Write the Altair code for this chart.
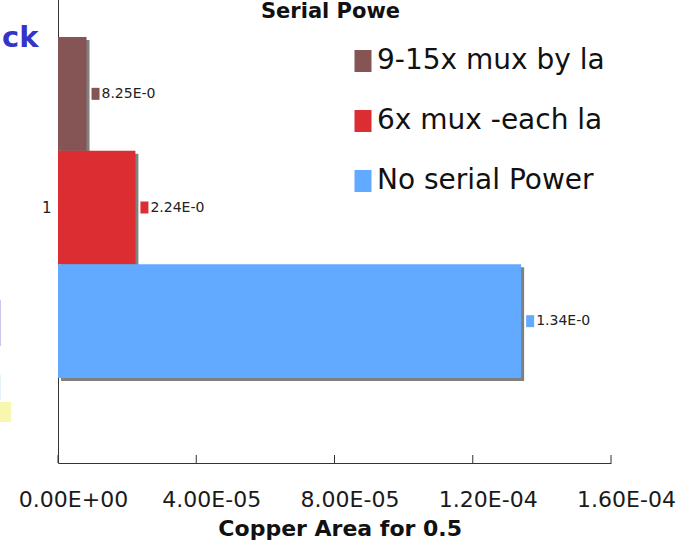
import altair as alt
import pandas as pd

# Series (one category "1", three bars)
series = ["9-15x mux by la", "6x mux -each la", "No serial Power"]
values = [8.25e-06, 2.24e-05, 1.34e-04]
colors = ["#855555", "#DC2D33", "#62AAFF"]
category = ["1", "1", "1"]

# X axis ticks
tick_values = [0.0, 4e-05, 8e-05, 1.2e-04, 1.6e-04]
tick_labels = ["0.00E+00", "4.00E-05", "8.00E-05", "1.20E-04", "1.60E-04"]

W, H = 553, 511
FONT = "DejaVu Sans"

df = pd.DataFrame({
    "cat": category,
    "series": series,
    "value": values,
    "hex": colors,
    "label": [f"{v:.2E}" for v in values],
})
ticks_df = pd.DataFrame({"value": tick_values})
one = pd.DataFrame({"k": [0]})

# label expression mapping tick values to scientific labels
label_expr = "''"
for v, lab in reversed(list(zip(tick_values, tick_labels))):
    label_expr = f"abs(datum.value - {v!r}) < 1e-9 ? '{lab}' : ({label_expr})"

x_axis = alt.Axis(
    values=tick_values,
    labelExpr=label_expr,
    title="Copper Area for 0.5",
    ticks=False,
    grid=False,
    labelFlush=False,
    labelOverlap=False,
    labelOffset=15,
    labelPadding=26,
    labelFont=FONT,
    labelFontSize=22,
    labelColor="#1a1a1a",
    domainColor="#333333",
    titleFont=FONT,
    titleFontSize=22,
    titleFontWeight="bold",
    titleColor="#111111",
    titleX=281.7,
    titleY=72.7,
    titleAlign="center",
    titleBaseline="alphabetic",
)
x_scale = alt.Scale(domain=[0, 1.6e-04], nice=False, zero=True)
x_enc = alt.X("value:Q", scale=x_scale, axis=x_axis)

y_enc = alt.Y(
    "cat:N",
    scale=alt.Scale(paddingOuter=0.2493, paddingInner=0),
    axis=alt.Axis(
        title=None,
        ticks=False,
        labelPadding=7,
        labelFont=FONT,
        labelFontSize=15,
        labelAngle=0,
        labelColor="#222222",
        domainColor="#333333",
    ),
)
# band offsets for the bars, point offsets (centred) for labels and keys
y_off = alt.YOffset("series:N", sort=series,
                    scale=alt.Scale(paddingInner=0, paddingOuter=0))
y_off_shadow = alt.YOffset("series:N", sort=series,
                           scale=alt.Scale(range=[3, 344], paddingInner=0, paddingOuter=0))
y_off_point = alt.YOffset("series:N", sort=series, scale=alt.Scale(padding=0.5))

base = alt.Chart(df)

shadow = base.mark_bar(color="#808080", xOffset=3, x2Offset=3).encode(
    x=x_enc, y=y_enc, yOffset=y_off_shadow
)

bars = base.mark_bar().encode(
    x=x_enc,
    y=y_enc,
    yOffset=y_off,
    color=alt.Color(
        "series:N",
        sort=series,
        scale=alt.Scale(domain=series, range=colors),
        legend=alt.Legend(
            title=None,
            orient="none",
            legendX=291,
            legendY=95,
            padding=0,
            symbolType="M-0.773,-1H0.773V1H-0.773Z",
            symbolSize=484,
            symbolStrokeWidth=0,
            symbolOpacity=1,
            labelFont=FONT,
            labelFontSize=28,
            labelColor="#111111",
            labelOffset=0,
            labelLimit=400,
            rowPadding=32,
        ),
    ),
)

keys = base.mark_point(
    shape="M-0.667,-1H0.667V1H-0.667Z", size=144, filled=True, opacity=1,
    strokeWidth=0, xOffset=9,
).encode(x=x_enc, y=y_enc, yOffset=y_off_point,
         color=alt.Color("hex:N", scale=None))

labels = base.mark_text(
    align="left", baseline="middle", dx=15, font=FONT, fontSize=14,
    color="#222222", limit=54, ellipsis="\u200b",
).encode(x=x_enc, y=y_enc, yOffset=y_off_point, text="label:N")

tick_marks = alt.Chart(ticks_df).mark_rule(color="#333333", strokeWidth=1).encode(
    x=x_enc, y=alt.value(H - 8), y2=alt.value(H)
)

title = alt.Chart(one).mark_text(
    text="Serial Powe", font=FONT, fontSize=21, fontWeight="bold",
    color="#111111", align="center", baseline="alphabetic",
).encode(x=alt.value(272.5), y=alt.value(66))

side_word = alt.Chart(one).mark_text(
    text="ck", font=FONT, fontSize=29, fontWeight="bold",
    color="#3434C8", align="left", baseline="alphabetic",
).encode(x=alt.value(-56), y=alt.value(95))

yellow_box = alt.Chart(one).mark_rect(color="#F7F7B0").encode(
    x=alt.value(-58), x2=alt.value(-47), y=alt.value(450), y2=alt.value(470)
)
lavender_strip = alt.Chart(one).mark_rect(color="#C8C8EE").encode(
    x=alt.value(-58), x2=alt.value(-57), y=alt.value(348), y2=alt.value(394)
)
cyan_strip = alt.Chart(one).mark_rect(color="#E2F2F8").encode(
    x=alt.value(-58), x2=alt.value(-57), y=alt.value(423), y2=alt.value(448)
)

chart = (
    alt.layer(shadow, bars, keys, labels, tick_marks, title, side_word,
              yellow_box, lavender_strip, cyan_strip)
    .resolve_scale(yOffset="independent")
    .properties(
        width=W,
        height=H,
        autosize=alt.AutoSizeParams(type="none"),
        padding={"left": 58, "top": -48, "right": 85, "bottom": 82},
        background="white",
    )
    .configure_view(stroke=None)
)

chart.save("out.html", embed_options={"renderer": "svg", "actions": False})
